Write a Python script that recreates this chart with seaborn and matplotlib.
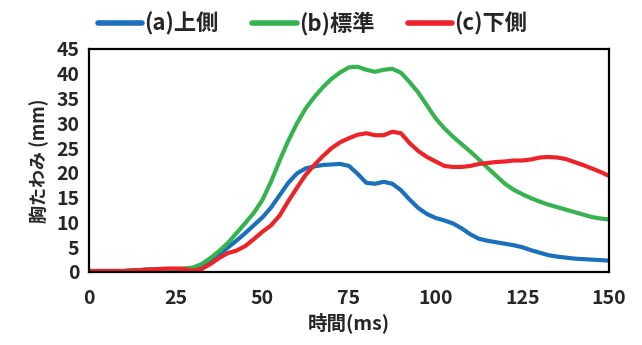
import numpy as np
import pandas as pd
import matplotlib
matplotlib.use('Agg')
import matplotlib.pyplot as plt
import seaborn as sns

# time axis (ms)
t_ms = [i * 2.5 for i in range(61)]

upper = [0.2, 0.2, 0.2, 0.2, 0.2, 0.3, 0.4, 0.5, 0.5, 0.5, 0.6, 0.6,
         0.7, 1.2, 2.3, 3.5, 4.9, 6.3, 7.8, 9.4, 11.0, 13.0, 15.5, 18.0,
         19.9, 20.9, 21.3, 21.6, 21.7, 21.8, 21.4, 19.8, 18.0, 17.8, 18.2, 17.8,
         16.5, 14.6, 12.9, 11.7, 10.9, 10.4, 9.8, 8.8, 7.6, 6.7, 6.3, 6.0,
         5.7, 5.4, 5.0, 4.4, 3.9, 3.4, 3.1, 2.9, 2.7, 2.6, 2.5, 2.4, 2.3]

standard = [0.2, 0.2, 0.2, 0.2, 0.2, 0.3, 0.4, 0.5, 0.5, 0.5, 0.6, 0.7,
            0.9, 1.6, 2.8, 4.2, 5.8, 7.8, 9.8, 11.9, 14.5, 18.2, 22.5, 26.5,
            30.0, 33.0, 35.3, 37.3, 39.0, 40.3, 41.3, 41.4, 40.8, 40.4, 40.8, 41.0,
            40.2, 38.3, 36.2, 33.6, 31.0, 29.0, 27.3, 25.8, 24.3, 22.7, 21.0, 19.4,
            17.8, 16.6, 15.7, 14.9, 14.2, 13.6, 13.1, 12.6, 12.1, 11.6, 11.1, 10.8, 10.6]

lower = [0.2, 0.2, 0.2, 0.2, 0.2, 0.3, 0.4, 0.5, 0.6, 0.7, 0.7, 0.6,
         0.3, 0.6, 1.6, 2.8, 3.8, 4.3, 5.2, 6.6, 8.1, 9.4, 11.4, 14.3,
         17.0, 19.6, 21.6, 23.4, 25.0, 26.2, 27.0, 27.7, 28.0, 27.6, 27.6, 28.3,
         28.0, 26.0, 24.4, 23.2, 22.3, 21.4, 21.2, 21.2, 21.4, 21.8, 22.0, 22.2,
         22.3, 22.5, 22.5, 22.7, 23.1, 23.2, 23.1, 22.8, 22.2, 21.6, 20.9, 20.2, 19.4]

labels = ['(a)上側', '(b)標準', '(c)下側']
colors = ['#1a70ba', '#35b34f', '#ec2329']

df = pd.concat([
    pd.DataFrame({'time': t_ms, 'val': upper, 'case': labels[0]}),
    pd.DataFrame({'time': t_ms, 'val': standard, 'case': labels[1]}),
    pd.DataFrame({'time': t_ms, 'val': lower, 'case': labels[2]}),
])

sns.set_style('white')
plt.rcParams['font.family'] = ['Noto Sans CJK JP', 'DejaVu Sans']
plt.rcParams['font.weight'] = 'bold'

fig = plt.figure(figsize=(6.42, 3.45), dpi=100)
ax = fig.add_axes([0.1386, 0.2116, 0.81, 0.6464])

sns.lineplot(data=df, x='time', y='val', hue='case', palette=colors,
             linewidth=3.0, ax=ax, legend=True)

ax.set_xlim(0, 150)
ax.set_ylim(0, 45)
ax.set_xticks(range(0, 151, 25))
ax.set_yticks(range(0, 46, 5))
ax.tick_params(axis='x', direction='in', length=5, width=1.5, pad=12, labelsize=14)
ax.tick_params(axis='y', length=0, pad=7, labelsize=14)
for lab in ax.get_xticklabels() + ax.get_yticklabels():
    lab.set_fontweight('bold')
for sp in ax.spines.values():
    sp.set_linewidth(1.6)
    sp.set_color('black')

ax.set_xlabel('時間(ms)', fontsize=14, fontweight='bold', labelpad=3)
ax.set_ylabel('胸たわみ (mm)', fontsize=13, fontweight='bold', labelpad=5)

leg = ax.legend(loc='lower center', bbox_to_anchor=(0.43, 1.0), ncol=3, frameon=False,
                prop={'size': 16, 'weight': 'bold'}, handlelength=2.0,
                columnspacing=1.5, handletextpad=0.1, borderaxespad=0.2)
for line in leg.get_lines():
    line.set_linewidth(4)
    line.set_solid_capstyle('round')

fig.savefig('out.png', dpi=100)
